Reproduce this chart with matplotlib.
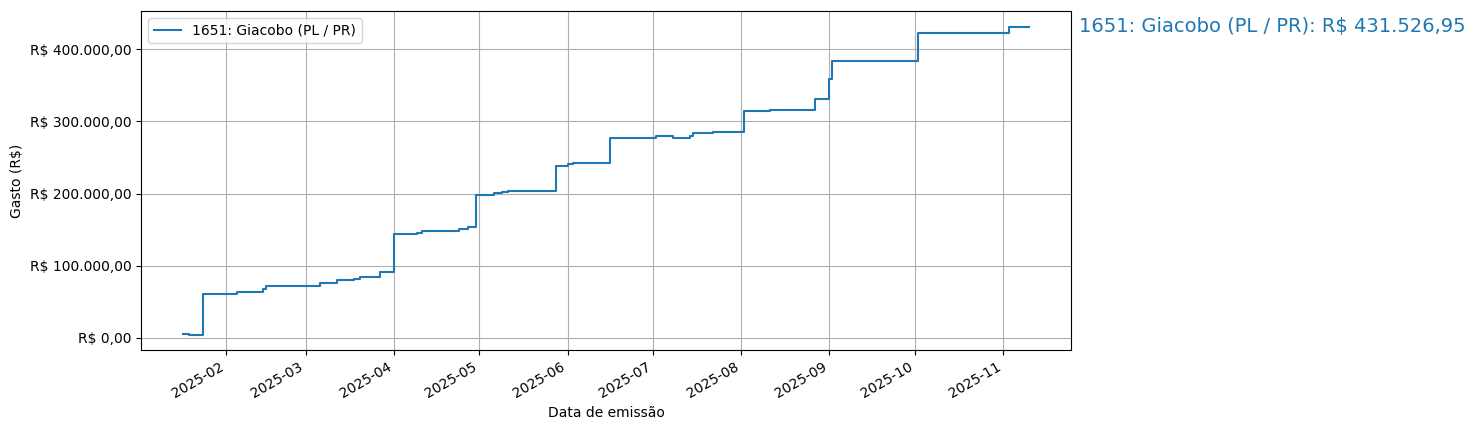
import matplotlib
matplotlib.use("Agg")
import matplotlib.pyplot as plt
import matplotlib.dates as mdates
import matplotlib.transforms as mtransforms
from matplotlib.ticker import FuncFormatter
import pandas as pd

label = "1651: Giacobo (PL / PR)"
dates = [
    "2025-01-17", "2025-01-19", "2025-01-24", "2025-02-05", "2025-02-14", "2025-02-15",
    "2025-03-06", "2025-03-12", "2025-03-18", "2025-03-20", "2025-03-27", "2025-04-01",
    "2025-04-09", "2025-04-11", "2025-04-24", "2025-04-27", "2025-04-30", "2025-05-06",
    "2025-05-09", "2025-05-11", "2025-05-28", "2025-06-01", "2025-06-03", "2025-06-13",
    "2025-06-16", "2025-07-02", "2025-07-08", "2025-07-14", "2025-07-15", "2025-07-22",
    "2025-08-02", "2025-08-11", "2025-08-27", "2025-09-01", "2025-09-02", "2025-10-02",
    "2025-11-03", "2025-11-10",
]
cumulative = [
    5800, 4300, 61300, 64100, 67800, 72000,
    76500, 79900, 82100, 84400, 90900, 143500,
    144900, 148100, 150900, 154000, 198300, 200500,
    202500, 203900, 238500, 240400, 241800, 242600,
    277200, 280000, 277200, 280000, 283300, 285000,
    315000, 316000, 331200, 358500, 383400, 422100,
    431526.95, 431526.95,
]

x = pd.to_datetime(dates)

fig = plt.figure(figsize=(14.75, 4.3), dpi=100)
ax = fig.add_axes([0.0956, 0.186, 0.6305, 0.788])
ax.plot(x, cumulative, drawstyle="steps-post", color="C0", label=label)
ax.grid(True)
ax.legend(loc="upper left")
ax.set_xlabel("Data de emissão")
ax.set_ylabel("Gasto (R$)")


def brl(v, pos=None):
    s = f"{v:,.2f}"
    s = s.replace(",", "X").replace(".", ",").replace("X", ".")
    return "R$ " + s


ax.yaxis.set_major_formatter(FuncFormatter(brl))
ax.xaxis.set_major_locator(mdates.MonthLocator())
ax.xaxis.set_major_formatter(mdates.DateFormatter("%Y-%m"))
for lbl in ax.get_xticklabels():
    lbl.set_rotation(30)
    lbl.set_ha("right")

trans = mtransforms.blended_transform_factory(ax.transAxes, ax.transData)
ax.text(1.009, cumulative[-1], f"{label}: {brl(cumulative[-1])}", transform=trans,
        color="C0", fontsize=14, va="center", ha="left")

fig.savefig("out.png", dpi=100)
